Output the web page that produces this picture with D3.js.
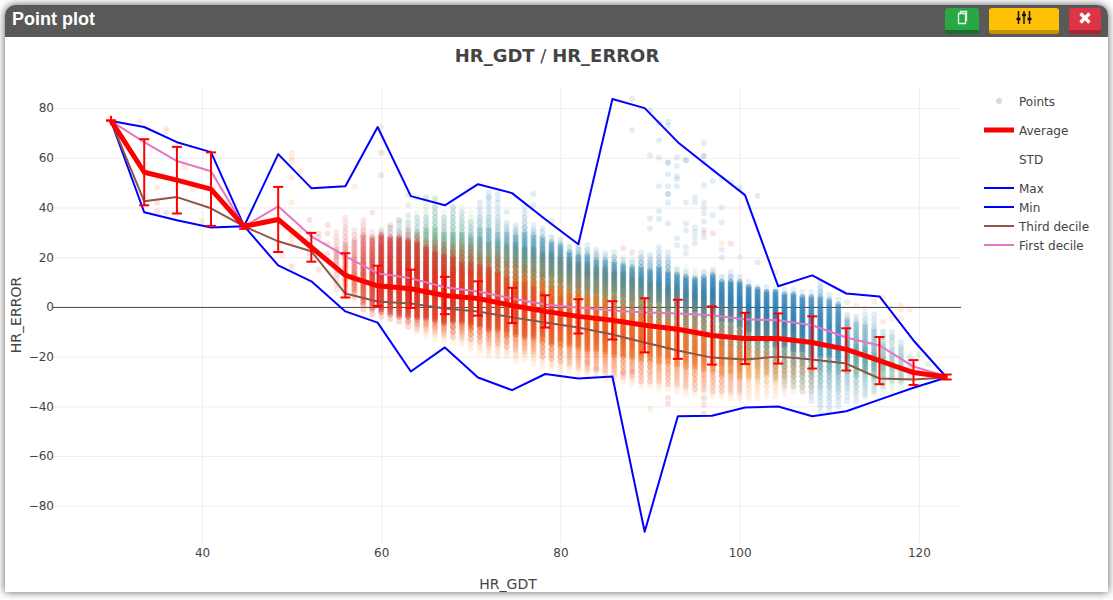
<!DOCTYPE html>
<html>
<head>
<meta charset="utf-8">
<script src="https://cdnjs.cloudflare.com/ajax/libs/d3/7.8.5/d3.min.js"></script>
<style>
  html, body { margin: 0; padding: 0; background: #fff; overflow: hidden; }
  #panel { position: absolute; left: 5px; top: 5px; width: 1103px; height: 587px; background: #fff;
    border-radius: 10px 10px 0 0; box-shadow: 0 0 8px rgba(0,0,0,.65); overflow: hidden; }
  #head { position: absolute; left: 0; top: 0; right: 0; height: 32px; background: #595959; color: #fff;
    font: bold 18px "Liberation Sans", Arial, sans-serif; line-height: 28px; padding-left: 7px; }
  .btn { position: absolute; top: 3px; height: 22px; border-radius: 3px; border-bottom: 4px solid; }
  .btn svg { position: absolute; left: 50%; top: 2px; transform: translateX(-50%); }
  #chart { position: absolute; left: 0; top: 0; }
</style>
</head>
<body>
<div id="panel">
  <div id="head">Point plot</div>
  <div class="btn" style="left:940px;width:34px;background:#28a745;border-color:#1c6b30">
    <svg width="14" height="16"><path d="M3.5 3.5h7v10h-7zM5.5 3.5v-2h6v9h-1" fill="none" stroke="#e8f6ec" stroke-width="1.3"/></svg>
  </div>
  <div class="btn" style="left:984px;width:70px;background:#ffc107;border-color:#c39406">
    <svg width="16" height="16"><path d="M2.5 1v13M8 1v13M13.5 1v13" stroke="#111" stroke-width="1.5"/><path d="M.5 9h4M6 5h4M11.5 9h4" stroke="#111" stroke-width="2.4"/></svg>
  </div>
  <div class="btn" style="left:1064px;width:32px;background:#dc3545;border-color:#a92735">
    <svg width="14" height="16"><path d="M2.5 3.5l9 9M11.5 3.5l-9 9" stroke="#fff" stroke-width="3.4"/></svg>
  </div>
</div>
<svg id="chart" width="1113" height="600"></svg>
<script>
// binned statistics
const binX = [29.85, 33.55, 37.2, 41, 44.7, 48.5, 52.2, 56, 59.6, 63.3, 67.1, 70.8, 74.6, 78.3, 82, 85.8, 89.4, 93.1, 96.9, 100.6, 104.3, 108.1, 111.9, 115.6, 119.4, 123.1]
const maxValues = [74.8, 72.4, 66.3, 62.3, 32.5, 61.5, 47.8, 48.6, 72.4, 44.6, 40.9, 49.4, 45.8, 35.3, 25.2, 83.7, 80, 66.3, 55.4, 45, 8.3, 12.7, 5.4, 4.2, -13.5, -28.4]
const minValues = [74.8, 38.1, 34.9, 32, 32.5, 16.7, 10.3, -1.8, -6.3, -26, -16.3, -28.4, -33.5, -27, -28.8, -28, -90.5, -44, -43.8, -40.5, -40.1, -44, -42, -37.3, -32.5, -28.4]
const avgValues = [75, 54.2, 51, 47.4, 32.4, 35.2, 24, 12.7, 8.5, 7.3, 4.6, 3.4, 0.6, -1.8, -3.8, -5.4, -7.4, -9, -11.5, -12.7, -12.7, -14.3, -17.1, -21.6, -26.4, -28.2]
const stdValues = [1.9, 13.3, 13.4, 14.8, 1, 13.1, 5.8, 8.9, 8.1, 7.7, 7.5, 6.9, 7.1, 6.5, 6.9, 7.7, 10.9, 11.9, 11.7, 10.3, 10.1, 10.5, 8.5, 9.5, 5, 1]
const thirdDecile = [74.8, 42.5, 44.2, 39.7, 32.4, 26.4, 22.4, 5.4, 2.2, 1.4, -0.6, -1.8, -4.2, -6.3, -8.3, -11.1, -14.3, -17.5, -20.4, -21.2, -20, -21.2, -22.8, -28.8, -29.2, -28.4]
const firstDecile = [74.8, 66.3, 58.7, 54.6, 32.4, 40.5, 28.4, 20.4, 13.5, 11.5, 7.9, 6.2, 3.4, 1, -0.2, -1.4, -2.2, -2.6, -3.4, -5, -5.4, -7.4, -12.3, -15.5, -24, -28]

// point columns: [x, top, core top, core bottom, bottom, density]
const redColumns = [
  [55,30,24,18,7,.15],[56,36,26,14,5,.2],[57,31,26,6,4,.2],[58,35,28,2,-1,.35],[59,30,27,0,-3,.45],[60,31,28,-1,-4,.6],
  [61,30,27,-2,-5,.6],[62,30,27,-3,-6,.6],[63,31,26,-4,-8,.6],[64,30,25,-4,-9,.6],[65,26,23,-4,-9,.6],[66,26,22,-5,-10,.55],
  [67,25,20,-6,-11,.55],[68,24,20,-6,-12,.55],[69,24,18,-6,-12,.5],[70,24,17,-7,-13,.5],[71,21,16,-8,-14,.45],[72,20,15,-8,-15,.45],
  [73,20,14,-9,-15,.4],[74,18,12,-10,-16,.35],[75,18,10,-10,-17,.35],[76,16,9,-11,-18,.3],[77,14,7,-12,-18,.3],[78,12,6,-12,-20,.25],
  [79,10,4,-14,-21,.25],[80,10,3,-14,-22,.2],[81,8,2,-15,-23,.2],[82,8,0,-16,-24,.18],[83,6,-1,-16,-25,.18],[84,5,-2,-17,-25,.16],
  [85,4,-3,-18,-26,.16],[86,3,-5,-18,-27,.14],[87,2,-5,-19,-28,.14],[88,2,-6,-20,-28,.12],[89,0,-6,-20,-30,.12],[90,1,-7,-20,-30,.12],
  [91,-2,-8,-20,-30,.1],[92,-2,-9,-21,-31,.1],[93,-3,-10,-21,-31,.1],[94,-4,-12,-21,-32,.08],[95,-5,-13,-22,-33,.08],[96,-6,-14,-22,-33,.08],
  [97,-8,-15,-24,-34,.07],[98,-8,-15,-24,-34,.07],[99,-9,-16,-24,-34,.06],[100,-10,-18,-25,-34,.06]
]
const orangeColumns = [
  [56,20,14,8,4,.12],[57,20,14,6,3,.15],[58,22,14,3,-1,.2],[59,22,14,2,-3,.22],[60,24,15,1,-4,.25],[61,26,16,0,-5,.3],
  [62,26,17,-1,-6,.35],[63,26,17,-2,-8,.4],[64,28,17,-3,-10,.45],[65,28,17,-4,-12,.5],[66,28,16,-5,-13,.55],[67,26,16,-6,-14,.6],
  [68,26,15,-6,-14,.6],[69,26,15,-7,-15,.6],[70,25,14,-8,-17,.6],[71,25,14,-8,-18,.6],[72,25,13,-9,-20,.6],[73,24,13,-10,-20,.6],
  [74,24,12,-11,-20,.6],[75,24,12,-11,-22,.6],[76,22,11,-12,-21,.6],[77,22,10,-13,-23,.6],[78,22,9,-14,-24,.6],[79,20,8,-15,-25,.6],
  [80,20,7,-15,-26,.6],[81,18,6,-16,-26,.6],[82,18,5,-17,-27,.6],[83,16,4,-18,-28,.6],[84,16,3,-18,-28,.6],[85,15,2,-19,-29,.58],
  [86,14,0,-20,-30,.58],[87,12,-1,-20,-30,.55],[88,12,-2,-21,-31,.55],[89,10,-3,-21,-32,.52],[90,10,-4,-22,-32,.5],[91,8,-6,-23,-33,.5],
  [92,8,-7,-23,-33,.48],[93,7,-8,-24,-34,.48],[94,6,-9,-24,-35,.45],[95,5,-10,-25,-35,.45],[96,4,-11,-26,-36,.42],[97,3,-12,-26,-36,.4],
  [98,2,-13,-27,-36,.38],[99,0,-14,-27,-37,.36],[100,0,-16,-28,-37,.35],[101,-2,-17,-28,-37,.3],[102,-3,-18,-28,-37,.26],[103,-4,-19,-28,-36,.22],
  [104,-6,-20,-29,-36,.2],[105,-8,-22,-29,-35,.16],[106,-10,-23,-28,-34,.13],[107,-12,-22,-28,-34,.11],[108,-14,-24,-28,-34,.1]
]
const greenColumns = [
  [62,35,28,18,10,.07],[63,36,28,18,9,.08],[64,38,30,18,8,.11],[65,44,32,18,6,.17],[66,44,32,16,6,.2],[67,38,30,16,6,.2],
  [68,42,30,14,5,.21],[69,40,29,14,4,.21],[70,38,28,12,2,.21],[71,36,27,12,2,.22],[72,36,26,10,0,.22],[73,35,26,10,0,.22],
  [74,33,25,8,-2,.22],[75,32,25,8,-2,.22],[76,32,24,6,-4,.24],[77,30,23,6,-4,.24],[78,30,22,4,-6,.24],[79,28,21,4,-6,.24],
  [80,26,20,2,-8,.24],[81,26,19,2,-10,.24],[82,24,18,0,-10,.24],[83,22,17,0,-12,.24],[84,22,16,-2,-12,.24],[85,22,15,-2,-14,.24],
  [86,20,14,-4,-14,.24],[87,20,13,-4,-16,.22],[88,20,12,-6,-16,.22],[89,20,11,-6,-18,.22],[90,20,10,-8,-18,.21],[91,18,9,-8,-20,.21],
  [92,18,8,-10,-20,.2],[93,16,7,-10,-22,.2],[94,16,6,-12,-22,.18],[95,15,5,-12,-24,.17],[96,14,4,-14,-24,.17],[97,14,2,-14,-26,.15],
  [98,12,0,-16,-26,.14],[99,10,-1,-16,-28,.14],[100,10,-2,-18,-28,.14],[101,8,-3,-18,-28,.13],[102,6,-4,-20,-30,.13],[103,6,-5,-20,-30,.11],
  [104,6,-6,-22,-30,.11],[105,4,-7,-22,-30,.11],[106,4,-8,-24,-32,.11],[107,2,-10,-24,-32,.11],[108,2,-11,-25,-32,.11],[109,0,-12,-25,-32,.11],
  [110,0,-13,-26,-32,.11],[111,-2,-14,-26,-33,.11],[112,-4,-15,-26,-33,.14],[113,-5,-16,-27,-34,.17],[114,-6,-17,-27,-35,.17],[115,-8,-18,-28,-35,.14],
  [116,-10,-20,-28,-35,.11],[117,-14,-22,-28,-35,.08],[118,-16,-24,-30,-34,.07]
]
const blueColumns = [
  [60,30,26,22,18,.03],[61,32,27,22,18,.03],[62,34,28,22,18,.04],[63,34,28,22,16,.04],[64,36,29,22,16,.05],[65,36,29,22,14,.06],
  [66,40,30,20,14,.08],[67,36,30,20,12,.08],[68,40,30,20,12,.1],[69,38,30,18,10,.1],[70,34,30,18,8,.14],[71,42,32,18,8,.18],
  [72,46,32,18,6,.2],[73,42,30,16,6,.2],[74,34,30,16,4,.24],[75,33,29,16,4,.28],[76,40,30,14,2,.3],[77,33,29,14,0,.3],
  [78,30,27,12,-2,.33],[79,28,26,12,-2,.36],[80,27,25,10,-4,.36],[81,24,22,10,-5,.38],[82,25,21,8,-6,.4],[83,25,20,8,-7,.4],
  [84,23,19,7,-8,.38],[85,21,18,6,-9,.38],[86,22,18,6,-10,.4],[87,19,17,5,-10,.4],[88,18,16,4,-11,.42],[89,22,16,4,-12,.42],
  [90,21,15,3,-12,.45],[91,24,15,2,-12,.48],[92,22,14,0,-13,.5],[93,15,13,0,-14,.5],[94,14,12,-2,-15,.55],[95,12,11,-2,-16,.58],
  [96,14,11,-3,-16,.58],[97,15,12,-4,-18,.62],[98,12,10,-5,-18,.62],[99,14,10,-6,-20,.65],[100,12,9,-8,-22,.65],[101,10,8,-10,-22,.65],
  [102,8,7,-12,-24,.65],[103,8,6,-14,-26,.65],[104,7,6,-16,-28,.65],[105,7,5,-16,-32,.6],[106,7,5,-18,-32,.6],[107,6,4,-18,-34,.6],
  [108,6,4,-19,-38,.55],[109,10,3,-19,-42,.55],[110,5,2,-20,-42,.5],[111,3,1,-22,-40,.5],[112,-3,-5,-22,-38,.25],[113,-4,-6,-24,-38,.2],
  [114,-3,-8,-25,-36,.2],[115,-3,-10,-26,-34,.15],[116,-10,-14,-26,-32,.1],[117,-10,-16,-26,-30,.08],[118,-14,-18,-26,-30,.08],[119,-20,-22,-26,-28,.05]
]

// isolated points: [x, y]
const blueOutliers = [
  [88,83.7],[88,71.2],[90,79],[91,74],[92,74.5],[92,73],[91,67],[90,61],[91,60],[92,58],[92,58],[92,53.4],[93,60],[93,56.7],[94,59],[94,59],
  [93,52.6],[93,51.4],[91,48.6],[92,48.6],[93,48.6],[92,45.4],[92,45.4],[92,42],[94,42],[95,44],[95,42],[96,66],[96,60.7],[96,60.7],[96,58],
  [96,49],[97,55],[97,50.7],[98,51.8],[99,50.3],[100,48],[102,44.7],[96,42],[96,40],[96,37.7],[96,34.4],[97,37],[98,40],[98,34],[91,38.5],
  [90,35.6],[91,35.4],[92,33.6],[90,31.6],[94,33.6],[95,32],[94,30.8],[95,30],[95,28],[93,27.6],[93,24.8],[94,24],[94,21.5],[95,25.6],
  [96,31],[96,28],[98,23],[98,20],[102,18],[72,44],[73,45.4],[73,43.3],[77,45.4],[77,41],[74,38.2],[79,34.5],[78,31.6],[96,-37]
]
const greenOutliers = [[63,45],[63,41],[63,37],[64,44],[65,44],[66,43.6],[112,1.8],[120,-19],[121,-23],[117,-12],[118,-17]]
const orangeOutliers = [
  [33,74.6],[36,72],[36,70.8],[35,48.2],[38,56.2],[39,47.4],[40,34.5],[50,62],[50,60],[50,58.6],[50,52],[50,42],[51,55],[50,29.5],[50,27.5],
  [50,25.5],[51,31],[57,48.6],[60,72.4],[100,20],[98,25.5],[90,-41],[116,3.8],[115,2.2],[118,0.6],[118,-1],[119,-1],[117,-4.6],[118,-4.6],
  [116,-6],[114,-0.6],[113,0.6],[104,14],[49,20.8]
]
const redOutliers = [
  [35,42],[35,38.5],[36,38],[60,62],[60,53],[59,38],[62,35],[61,33],[61,31.6],[52,35],[52,29.5],[52,25],[52,21.5],[53,29.5],[53,28],[53,15],
  [54,33],[54,29.5],[54,25.5],[54,21.5],[50,16.3],[87,23.6],[88,22],[96,29.6],[99,25.5],[97,29.5],[92,-36.5],[92,-39],[96,-39.5],[96,-43],
  [87,-26.5],[88,-26],[84,-25],[83,-22.5]
]

const pointSeries = [
  { columns: greenColumns, outliers: greenOutliers, color: '#2ca02c', tail: 0.06 },
  { columns: blueColumns, outliers: blueOutliers, color: '#1f77b4', tail: 0.12 },
  { columns: orangeColumns, outliers: orangeOutliers, color: '#ff7f0e', tail: 0.1 },
  { columns: redColumns, outliers: redOutliers, color: '#d62728', tail: 0.11 }
]

const xTicks = [40, 60, 80, 100, 120]
const yTicks = [80, 60, 40, 20, 0, -20, -40, -60, -80]
const legendNames = ['Points', 'Average', 'STD', 'Max', 'Min', 'Third decile', 'First decile']

const params = { left: 53, right: 961, top: 87, bottom: 543 }

const svg = d3.select('#chart')
const font = '"DejaVu Sans", verdana, sans-serif'

const x = d3.scaleLinear().domain([23.37, 124.7]).range([params.left, params.right])
const y = d3.scaleLinear().domain([88.5, -95]).range([params.top, params.bottom])

// grid and tick labels
const xAxis = svg.append('g')
  .attr('transform', `translate(0,${params.bottom})`)
  .call(d3.axisBottom(x).tickValues(xTicks).tickSize(params.top - params.bottom))
const yAxis = svg.append('g')
  .attr('transform', `translate(${params.left},0)`)
  .call(d3.axisLeft(y).tickValues(yTicks).tickSize(params.left - params.right).tickPadding(-1))
for (const axis of [xAxis, yAxis]) {
  axis.select('.domain').remove()
  axis.selectAll('line').attr('stroke', '#eee').attr('stroke-width', 1)
  axis.selectAll('text').attr('fill', '#444').style('font', `12px ${font}`)
}
xAxis.selectAll('.tick text').attr('y', 14).attr('dy', 0)
yAxis.selectAll('line').filter(d => d === 0).attr('stroke', '#444')

// points, columns fade out from the core towards their ends
const pointsLayer = svg.append('g')
pointSeries.forEach(series => {
  const dots = []
  series.columns.forEach(([cx, top, coreTop, coreBottom, bottom, density]) => {
    const mid = (coreTop + coreBottom) / 2
    const half = Math.max((coreTop - coreBottom) / 2, 1)
    const tailDot = (v, from, to) => dots.push({ x: cx, y: v, o: series.tail + density * 0.6 * Math.abs(v - to) / Math.max(Math.abs(from - to), 1) })
    for (let v = top; v > coreTop; v -= 2) tailDot(v, coreTop, top)
    for (let v = bottom; v < coreBottom; v += 2) tailDot(v, coreBottom, bottom)
    for (let v = coreBottom; v <= coreTop; v++) {
      const peak = 1 - Math.abs(v - mid) / half
      dots.push({ x: cx, y: v, o: 0.05 + density * (0.7 + 0.35 * peak) })
    }
  })
  series.outliers.forEach(([cx, cy]) => dots.push({ x: cx, y: cy, o: 0.13 }))
  pointsLayer.append('g').selectAll('circle')
    .data(dots)
    .enter()
    .append('circle')
    .attr('cx', d => x(d.x))
    .attr('cy', d => y(d.y))
    .attr('r', 3)
    .attr('fill', series.color)
    .attr('fill-opacity', d => d.o)
})

// lines
const line = d3.line().x((d, i) => x(binX[i])).y(d => y(d))
const drawLine = (values, color, width) => svg.append('path')
  .datum(values)
  .attr('d', line)
  .attr('fill', 'none')
  .attr('stroke', color)
  .attr('stroke-width', width)
  .attr('stroke-linejoin', 'round')

drawLine(maxValues, '#0000ff', 2)
drawLine(minValues, '#0000ff', 2)
drawLine(thirdDecile, '#8c564b', 2)
drawLine(firstDecile, '#e377c2', 2)
drawLine(avgValues, '#ff0000', 5)

// error bars, the first one has both caps on the point
const errors = svg.append('g').attr('stroke', '#ff0000').attr('stroke-width', 2)
errors.selectAll('line.bar')
  .data(binX)
  .enter()
  .append('line')
  .attr('class', 'bar')
  .attr('x1', d => x(d))
  .attr('x2', d => x(d))
  .attr('y1', (d, i) => y(avgValues[i] + stdValues[i]))
  .attr('y2', (d, i) => y(avgValues[i] - stdValues[i]))
const capOffset = (i) => i === 0 ? 0 : stdValues[i]
for (const sign of [1, -1]) {
  errors.selectAll(`line.cap${sign}`)
    .data(binX)
    .enter()
    .append('line')
    .attr('class', `cap${sign}`)
    .attr('x1', d => x(d) - 5)
    .attr('x2', d => x(d) + 5)
    .attr('y1', (d, i) => y(avgValues[i] + sign * capOffset(i)))
    .attr('y2', (d, i) => y(avgValues[i] + sign * capOffset(i)))
}

// titles
svg.append('text')
  .attr('x', 557).attr('y', 62).attr('text-anchor', 'middle')
  .attr('fill', '#444').style('font', `18px ${font}`)
  .html('<tspan font-weight="bold">HR_GDT</tspan> / <tspan font-weight="bold">HR_ERROR</tspan>')
svg.append('text')
  .attr('x', 508).attr('y', 589).attr('text-anchor', 'middle')
  .attr('fill', '#444').style('font', `14px ${font}`)
  .text('HR_GDT')
svg.append('text')
  .attr('transform', 'translate(21,315) rotate(-90)').attr('text-anchor', 'middle')
  .attr('fill', '#444').style('font', `14px ${font}`)
  .text('HR_ERROR')

// legend
const legendY = d3.scaleOrdinal().domain(legendNames).range([101, 130, 159, 188, 207, 226, 245])
const legend = svg.append('g')
legend.selectAll('text')
  .data(legendNames)
  .enter()
  .append('text')
  .attr('x', 1019)
  .attr('y', d => legendY(d) + 4.5)
  .attr('fill', '#444')
  .style('font', `12px ${font}`)
  .text(d => d)
legend.append('circle').attr('cx', 999).attr('cy', legendY('Points')).attr('r', 3).attr('fill', '#d3d9e9')
const legendLines = [['Average', '#ff0000', 5], ['Max', '#0000ff', 2], ['Min', '#0000ff', 2], ['Third decile', '#8c564b', 2], ['First decile', '#e377c2', 2]]
legend.selectAll('line')
  .data(legendLines)
  .enter()
  .append('line')
  .attr('x1', 984)
  .attr('x2', 1014)
  .attr('y1', d => legendY(d[0]))
  .attr('y2', d => legendY(d[0]))
  .attr('stroke', d => d[1])
  .attr('stroke-width', d => d[2])
</script>
</body>
</html>
